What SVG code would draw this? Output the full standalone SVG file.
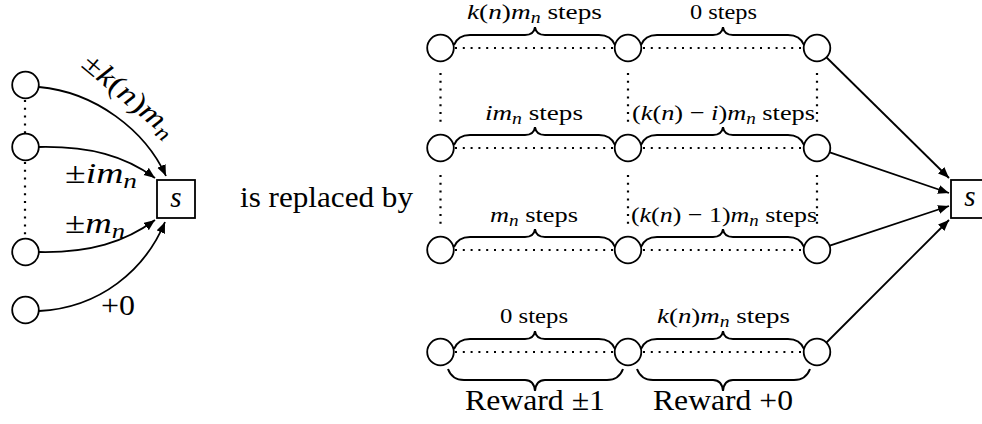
<svg xmlns="http://www.w3.org/2000/svg" width="982" height="424" viewBox="0 0 982 424">
<style>
.nd{fill:#fff;stroke:#000;stroke-width:1.8}
.ln{fill:none;stroke:#000;stroke-width:1.8}
.br{fill:none;stroke:#000;stroke-width:2}
.dt{fill:none;stroke:#000;stroke-width:2.2;stroke-dasharray:2 5.8}
</style>
<defs>
<marker id="ah" markerUnits="userSpaceOnUse" viewBox="0 0 12 10" markerWidth="12" markerHeight="10" refX="11" refY="4.5" orient="auto">
<path d="M0,0 L11,4.5 L0,9 Z" fill="#000"/>
</marker>
</defs>

<g id="connectors">
<line class="dt" x1="25" y1="100" x2="25" y2="133"/>
<line class="dt" x1="25" y1="162" x2="25" y2="238"/>
<path class="ln" d="M39,87 C95,92 145,130 166,176" marker-end="url(#ah)"/>
<path class="ln" d="M39,147 C90,146 125,156 155,178" marker-end="url(#ah)"/>
<path class="ln" d="M39,252 C90,253 125,242 155,220" marker-end="url(#ah)"/>
<path class="ln" d="M39,311 C100,308 145,270 165,222" marker-end="url(#ah)"/>
<line class="dt" x1="455" y1="48" x2="614" y2="48"/>
<line class="dt" x1="643" y1="48" x2="803" y2="48"/>
<line class="dt" x1="455" y1="148" x2="614" y2="148"/>
<line class="dt" x1="643" y1="148" x2="803" y2="148"/>
<line class="dt" x1="455" y1="250" x2="614" y2="250"/>
<line class="dt" x1="643" y1="250" x2="803" y2="250"/>
<line class="dt" x1="455" y1="352" x2="614" y2="352"/>
<line class="dt" x1="643" y1="352" x2="803" y2="352"/>
<line class="dt" x1="440.5" y1="73" x2="440.5" y2="122"/>
<line class="dt" x1="628" y1="73" x2="628" y2="122"/>
<line class="dt" x1="817" y1="73" x2="817" y2="122"/>
<line class="dt" x1="440.5" y1="175" x2="440.5" y2="224"/>
<line class="dt" x1="628" y1="175" x2="628" y2="224"/>
<line class="dt" x1="817" y1="175" x2="817" y2="224"/>
<path class="br" d="M454,45 Q458,35 470,35 H525 Q534,35 535,27 Q536,35 545,35 H599 Q611,35 615,45"/>
<path class="br" d="M641,45 Q645,35 657,35 H713 Q722,35 723,27 Q724,35 733,35 H788 Q800,35 804,45"/>
<path class="br" d="M454,145 Q458,135 470,135 H525 Q534,135 535,127 Q536,135 545,135 H599 Q611,135 615,145"/>
<path class="br" d="M641,145 Q645,135 657,135 H713 Q722,135 723,127 Q724,135 733,135 H788 Q800,135 804,145"/>
<path class="br" d="M454,247 Q458,237 470,237 H525 Q534,237 535,229 Q536,237 545,237 H599 Q611,237 615,247"/>
<path class="br" d="M641,247 Q645,237 657,237 H713 Q722,237 723,229 Q724,237 733,237 H788 Q800,237 804,247"/>
<path class="br" d="M454,349 Q458,339 470,339 H525 Q534,339 535,331 Q536,339 545,339 H599 Q611,339 615,349"/>
<path class="br" d="M641,349 Q645,339 657,339 H713 Q722,339 723,331 Q724,339 733,339 H788 Q800,339 804,349"/>
<path class="br" d="M448,369 Q452,380 464,380 H525 Q534,380 535,391 Q536,380 545,380 H607 Q619,380 623,369"/>
<path class="br" d="M637,369 Q641,380 653,380 H713 Q722,380 723,391 Q724,380 733,380 H794 Q806,380 810,369"/>
<line class="ln" x1="826.6" y1="57.5" x2="949" y2="178" marker-end="url(#ah)"/>
<line class="ln" x1="829.8" y1="152.4" x2="949" y2="193" marker-end="url(#ah)"/>
<line class="ln" x1="829.8" y1="245.7" x2="949" y2="206" marker-end="url(#ah)"/>
<line class="ln" x1="826.5" y1="342.5" x2="949" y2="220" marker-end="url(#ah)"/>
</g>

<g id="L1"><circle class="nd" cx="25.5" cy="85" r="13.3"/></g>
<g id="L2"><circle class="nd" cx="25.5" cy="147" r="13.3"/></g>
<g id="L3"><circle class="nd" cx="25.5" cy="252" r="13.3"/></g>
<g id="L4"><circle class="nd" cx="25.5" cy="310" r="13.3"/></g>
<g id="Ls"><rect class="nd" x="157" y="180" width="38" height="38"/><text x="176" y="207" text-anchor="middle" font-family="Liberation Serif" font-size="29" font-style="italic">s</text></g>

<g id="left-labels">
<text x="80" y="66" transform="rotate(40 80 66)" font-family="Liberation Serif" font-size="29" textLength="113" lengthAdjust="spacingAndGlyphs">±<tspan font-style="italic">k</tspan>(<tspan font-style="italic">n</tspan>)<tspan font-style="italic">m</tspan><tspan font-style="italic" font-size="21" dy="5">n</tspan></text>
<text x="65" y="183" font-family="Liberation Serif" font-size="29" textLength="72" lengthAdjust="spacingAndGlyphs">±<tspan font-style="italic">im</tspan><tspan font-style="italic" font-size="21" dy="5">n</tspan></text>
<text x="65" y="233" font-family="Liberation Serif" font-size="29" textLength="60" lengthAdjust="spacingAndGlyphs">±<tspan font-style="italic">m</tspan><tspan font-style="italic" font-size="21" dy="5">n</tspan></text>
<text x="101" y="315" font-family="Liberation Serif" font-size="29" textLength="34" lengthAdjust="spacingAndGlyphs">+0</text>
<text x="240" y="207" font-family="Liberation Serif" font-size="29" textLength="173" lengthAdjust="spacingAndGlyphs">is replaced by</text>
</g>

<g id="R11"><circle class="nd" cx="440.5" cy="48" r="13.3"/></g>
<g id="R12"><circle class="nd" cx="628" cy="48" r="13.3"/></g>
<g id="R13"><circle class="nd" cx="817" cy="48" r="13.3"/></g>
<g id="R21"><circle class="nd" cx="440.5" cy="148" r="13.3"/></g>
<g id="R22"><circle class="nd" cx="628" cy="148" r="13.3"/></g>
<g id="R23"><circle class="nd" cx="817" cy="148" r="13.3"/></g>
<g id="R31"><circle class="nd" cx="440.5" cy="250" r="13.3"/></g>
<g id="R32"><circle class="nd" cx="628" cy="250" r="13.3"/></g>
<g id="R33"><circle class="nd" cx="817" cy="250" r="13.3"/></g>
<g id="R41"><circle class="nd" cx="440.5" cy="352" r="13.3"/></g>
<g id="R42"><circle class="nd" cx="628" cy="352" r="13.3"/></g>
<g id="R43"><circle class="nd" cx="817" cy="352" r="13.3"/></g>
<g id="Rs"><rect class="nd" x="951" y="180" width="38" height="38"/><text x="970" y="206" text-anchor="middle" font-family="Liberation Serif" font-size="29" font-style="italic">s</text></g>

<g id="step-labels">
<text x="467" y="19" font-family="Liberation Serif" font-size="22" textLength="135" lengthAdjust="spacingAndGlyphs"><tspan font-style="italic">k</tspan>(<tspan font-style="italic">n</tspan>)<tspan font-style="italic">m</tspan><tspan font-style="italic" font-size="16" dy="4">n</tspan><tspan dy="-4"> steps</tspan></text>
<text x="690" y="19" font-family="Liberation Serif" font-size="22" textLength="67" lengthAdjust="spacingAndGlyphs">0 steps</text>
<text x="485" y="120" font-family="Liberation Serif" font-size="22" textLength="98" lengthAdjust="spacingAndGlyphs"><tspan font-style="italic">im</tspan><tspan font-style="italic" font-size="16" dy="4">n</tspan><tspan dy="-4"> steps</tspan></text>
<text x="632" y="120" font-family="Liberation Serif" font-size="22" textLength="183" lengthAdjust="spacingAndGlyphs">(<tspan font-style="italic">k</tspan>(<tspan font-style="italic">n</tspan>) − <tspan font-style="italic">i</tspan>)<tspan font-style="italic">m</tspan><tspan font-style="italic" font-size="16" dy="4">n</tspan><tspan dy="-4"> steps</tspan></text>
<text x="490" y="222" font-family="Liberation Serif" font-size="22" textLength="88" lengthAdjust="spacingAndGlyphs"><tspan font-style="italic">m</tspan><tspan font-style="italic" font-size="16" dy="4">n</tspan><tspan dy="-4"> steps</tspan></text>
<text x="631" y="222" font-family="Liberation Serif" font-size="22" textLength="186" lengthAdjust="spacingAndGlyphs">(<tspan font-style="italic">k</tspan>(<tspan font-style="italic">n</tspan>) − 1)<tspan font-style="italic">m</tspan><tspan font-style="italic" font-size="16" dy="4">n</tspan><tspan dy="-4"> steps</tspan></text>
<text x="500" y="323" font-family="Liberation Serif" font-size="22" textLength="68" lengthAdjust="spacingAndGlyphs">0 steps</text>
<text x="657" y="323" font-family="Liberation Serif" font-size="22" textLength="133" lengthAdjust="spacingAndGlyphs"><tspan font-style="italic">k</tspan>(<tspan font-style="italic">n</tspan>)<tspan font-style="italic">m</tspan><tspan font-style="italic" font-size="16" dy="4">n</tspan><tspan dy="-4"> steps</tspan></text>
<text x="465" y="410" font-family="Liberation Serif" font-size="29" textLength="140" lengthAdjust="spacingAndGlyphs">Reward ±1</text>
<text x="653" y="410" font-family="Liberation Serif" font-size="29" textLength="140" lengthAdjust="spacingAndGlyphs">Reward +0</text>
</g>
</svg>
